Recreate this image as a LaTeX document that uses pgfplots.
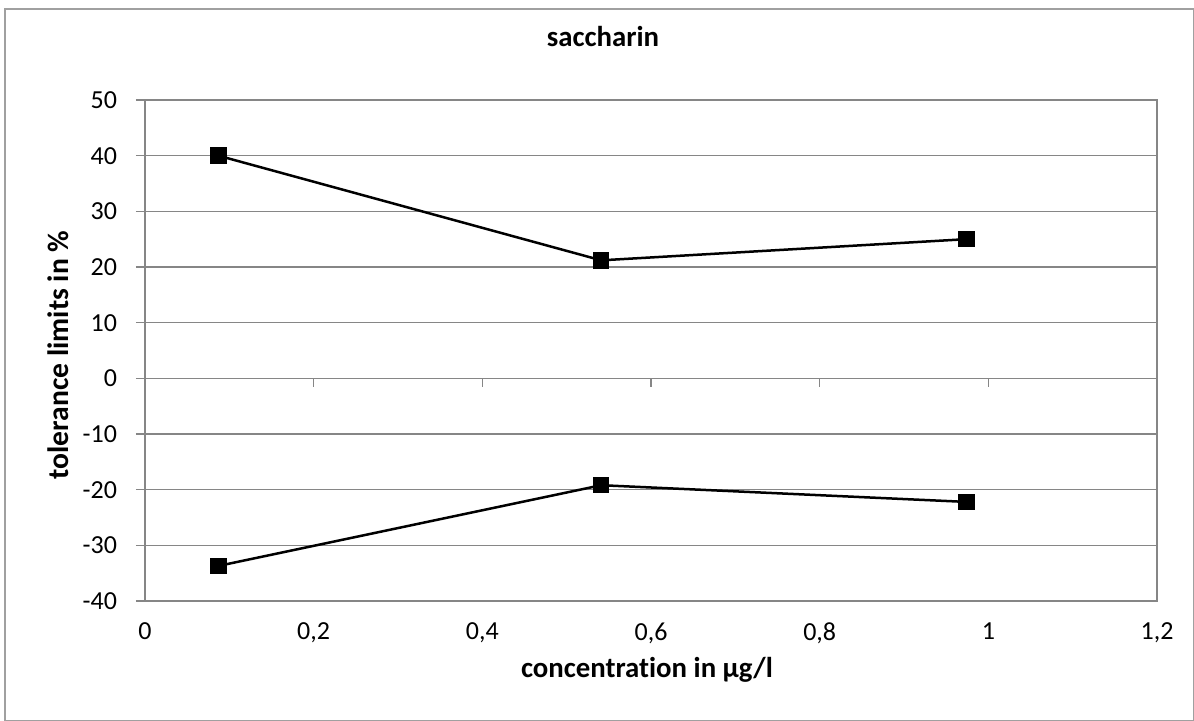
\documentclass[border=0pt]{standalone}
\usepackage{pgfplots}
\pgfplotsset{compat=1.18}
\usepackage{fontspec}
\setmainfont[Ligatures=NoCommon]{Carlito}
\definecolor{axgray}{RGB}{134,134,134}
\definecolor{framegray}{RGB}{160,160,160}

\begin{document}
\begin{tikzpicture}
\useasboundingbox (-72.5pt,-60pt) rectangle (524.5pt,300.5pt);
\draw[framegray, line width=0.6pt] (-70pt,-59.7pt) rectangle (524.2pt,296pt);
\begin{axis}[
    at={(0,0)}, anchor=south west,
    scale only axis,
    width=506pt, height=250.5pt,
    xmin=0, xmax=1.2,
    ymin=-40, ymax=50,
    xtick={0,0.2,...,1.2},
    ytick={-40,-30,...,50},
    xticklabels={0,{0,2},{0,4},{0,6},{0,8},1,{1,2}},
    /pgf/number format/assume math mode=true,
    ticklabel style={font=\fontsize{13}{15}\selectfont},
    xtick style={draw=none},
    ytick style={axgray, line width=0.6pt},
    ytick pos=left,
    tick align=outside,
    major tick length=4.5pt,
    ymajorgrids=true,
    grid style={axgray, line width=0.6pt},
    axis line style={axgray, line width=0.6pt},
    xticklabel style={yshift=-3pt},
    yticklabel style={xshift=-6pt},
    title={\bfseries saccharin},
    title style={font=\fontsize{14.4}{17}\selectfont, at={(axis description cs:0.4526,1)}, anchor=base, yshift=21pt},
    xlabel={\bfseries concentrat\kern0pt ion in µg/l},
    xlabel style={font=\fontsize{14.4}{17}\selectfont, at={(axis description cs:0.496,0)}, anchor=base, yshift=-38.5pt},
    ylabel={\bfseries tolerance limits in \%},
    ylabel style={font=\fontsize{14.8}{17}\selectfont, at={(axis description cs:-0.086,0.491)}, anchor=center},
    clip=false,
]
% upper tolerance limit
\addplot[black, line width=1.25pt, mark=square*, mark size=3.5pt, mark options={solid}] coordinates {
    (0.087,40.0)(0.541,21.2)(0.974,25.0)
};
% lower tolerance limit
\addplot[black, line width=1.25pt, mark=square*, mark size=3.5pt, mark options={solid}] coordinates {
    (0.087,-33.7)(0.541,-19.2)(0.974,-22.2)
};
\draw[axgray, line width=0.6pt] (axis cs:0,0) -- (axis cs:1.2,0);
\pgfplotsinvokeforeach{0.2,0.4,0.6,0.8,1.0,1.2}{
    \draw[axgray, line width=0.6pt] (axis cs:#1,0) -- ([yshift=-4.5pt]axis cs:#1,0);
}
\draw[axgray, line width=1.2pt] (axis cs:0,50) -- (axis cs:0,-40) -- (axis cs:1.2,-40) -- (axis cs:1.2,50);
\end{axis}
\end{tikzpicture}
\end{document}
